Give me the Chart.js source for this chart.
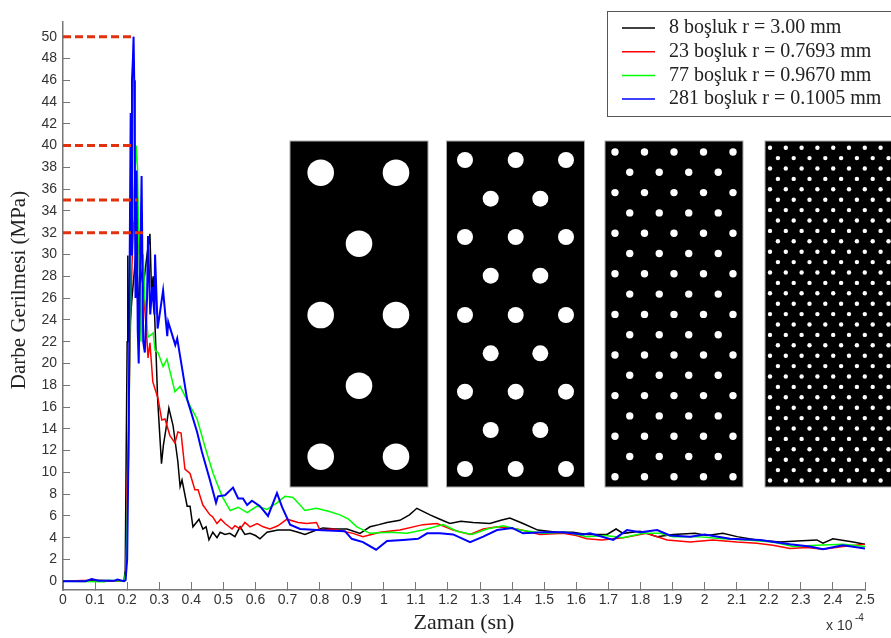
<!DOCTYPE html>
<html>
<head>
<meta charset="utf-8">
<title>Darbe Gerilmesi</title>
<script src="https://cdn.jsdelivr.net/npm/chart.js@4"></script>
<style>
    html, body { margin: 0; padding: 0; background: #fff; overflow: hidden; }
    canvas { display: block; }
</style>
</head>
<body>
<canvas id="stressChart" width="891" height="638"></canvas>
<script>
// Values. Time is in units of 10^-4 s, stress in MPa
const xTickLabels = ['0', '0.1', '0.2', '0.3', '0.4', '0.5', '0.6', '0.7', '0.8', '0.9', '1', '1.1', '1.2', '1.3', '1.4', '1.5', '1.6', '1.7', '1.8', '1.9', '2', '2.1', '2.2', '2.3', '2.4', '2.5'];
const yTickLabels = ['0', '2', '4', '6', '8', '10', '12', '14', '16', '18', '20', '22', '24', '26', '28', '30', '32', '34', '36', '38', '40', '42', '44', '46', '48', '50'];

const seriesNames = ['8 boşluk r = 3.00 mm', '23 boşluk r = 0.7693 mm', '77 boşluk r = 0.9670 mm', '281 boşluk r = 0.1005 mm'];
const seriesColors = ['#000000', '#ff0000', '#00ff00', '#0000ff'];

const timeBlack = [0, 0.085, 0.1, 0.15, 0.19, 0.194, 0.197, 0.2, 0.202, 0.205, 0.215, 0.23, 0.234, 0.24, 0.25, 0.262, 0.271, 0.276, 0.281, 0.29, 0.295, 0.307, 0.313, 0.321, 0.33, 0.343, 0.358, 0.365, 0.371, 0.387, 0.396, 0.405, 0.424, 0.436, 0.446, 0.455, 0.467, 0.48, 0.49, 0.505, 0.52, 0.536, 0.552, 0.567, 0.583, 0.6, 0.614, 0.636, 0.67, 0.708, 0.733, 0.754, 0.78, 0.81, 0.85, 0.885, 0.926, 0.957, 0.985, 1.01, 1.05, 1.08, 1.103, 1.144, 1.175, 1.206, 1.24, 1.278, 1.331, 1.365, 1.393, 1.434, 1.48, 1.54, 1.59, 1.633, 1.696, 1.724, 1.746, 1.799, 1.852, 1.902, 1.97, 2.007, 2.057, 2.101, 2.163, 2.235, 2.288, 2.35, 2.369, 2.4, 2.463, 2.5];
const stressBlack = [0, 0.05, 0.1, 0.05, 0.05, 1, 12, 22, 29.9, 22, 26, 31, 23.4, 29, 27, 30, 31.9, 26.5, 28, 21, 16.7, 10.8, 12.5, 14, 15.9, 14.3, 11, 8.7, 9.3, 6.9, 6.9, 5, 5.7, 4.8, 5, 3.8, 4.5, 4, 4.5, 4.3, 4.4, 4.1, 5, 4.3, 4.4, 4.2, 3.9, 4.5, 4.7, 4.7, 4.5, 4.3, 4.6, 4.9, 4.8, 4.8, 4.4, 5, 5.2, 5.4, 5.6, 6.1, 6.7, 6.1, 5.7, 5.3, 5.5, 5.4, 5.3, 5.6, 5.8, 5.3, 4.7, 4.5, 4.5, 4.3, 4.3, 4.8, 4.4, 4.6, 4.1, 4.3, 4.4, 4.2, 4.4, 4.1, 3.8, 3.6, 3.7, 3.8, 3.5, 3.9, 3.6, 3.4];

const timeRed = [0, 0.08, 0.09, 0.1, 0.19, 0.196, 0.2, 0.205, 0.21, 0.215, 0.22, 0.225, 0.23, 0.235, 0.24, 0.243, 0.25, 0.255, 0.262, 0.265, 0.271, 0.28, 0.296, 0.308, 0.318, 0.333, 0.349, 0.358, 0.368, 0.38, 0.396, 0.411, 0.421, 0.436, 0.458, 0.467, 0.48, 0.492, 0.505, 0.527, 0.536, 0.552, 0.567, 0.583, 0.605, 0.624, 0.645, 0.67, 0.698, 0.733, 0.76, 0.79, 0.801, 0.84, 0.873, 0.904, 0.935, 0.988, 1.05, 1.122, 1.166, 1.216, 1.269, 1.31, 1.353, 1.415, 1.487, 1.559, 1.6, 1.633, 1.68, 1.746, 1.82, 1.883, 1.955, 2.026, 2.101, 2.163, 2.213, 2.266, 2.32, 2.369, 2.431, 2.5];
const stressRed = [0, 0.1, 0.2, 0.05, 0, 0.5, 8, 15, 23, 29, 33, 35, 27, 32, 30, 33.3, 28, 25, 22, 20.5, 21.9, 18.3, 16.8, 14.8, 14.9, 13.4, 12.7, 13.7, 13.6, 10.3, 9.9, 8.4, 8.4, 7, 6.1, 5.9, 5.3, 5.7, 5.3, 4.8, 5.1, 4.8, 5.4, 5, 5.3, 5, 4.8, 5.1, 5.7, 5.4, 5.3, 5.4, 4.7, 4.8, 4.6, 4.4, 4.1, 4.5, 4.7, 5.2, 5.3, 4.7, 4.3, 4.8, 5, 4.8, 4.3, 4.4, 4.2, 3.9, 3.8, 4, 4.4, 3.8, 3.6, 3.8, 3.6, 3.5, 3.3, 3, 3.1, 2.95, 3.2, 3.4];

const timeGreen = [0, 0.13, 0.14, 0.19, 0.197, 0.2, 0.205, 0.21, 0.215, 0.218, 0.222, 0.228, 0.232, 0.237, 0.243, 0.25, 0.255, 0.265, 0.281, 0.287, 0.296, 0.312, 0.324, 0.349, 0.365, 0.396, 0.418, 0.443, 0.468, 0.496, 0.521, 0.546, 0.574, 0.605, 0.636, 0.667, 0.692, 0.717, 0.739, 0.754, 0.79, 0.83, 0.863, 0.89, 0.916, 0.957, 1.019, 1.072, 1.122, 1.185, 1.228, 1.275, 1.322, 1.372, 1.425, 1.496, 1.571, 1.633, 1.69, 1.746, 1.808, 1.861, 1.902, 1.976, 2.057, 2.132, 2.213, 2.276, 2.35, 2.431, 2.5];
const stressGreen = [0, -0.05, 0.1, 0, 1, 6, 12, 28, 38.3, 33, 36, 40, 38, 30, 22, 30, 26, 22.4, 22.8, 21.2, 21, 19.7, 20.4, 17.4, 17.9, 16.1, 14.9, 12.3, 9.9, 7.8, 6.5, 6.8, 6.3, 6.9, 6.6, 7.2, 7.8, 7.7, 7, 6.5, 6.7, 6.4, 6.1, 5.7, 5, 4.4, 4.5, 4.4, 4.7, 5.2, 4.6, 4.3, 4.8, 5.1, 4.7, 4.4, 4.5, 4.1, 4.2, 4, 4.4, 4.4, 4.1, 4.1, 3.9, 3.8, 3.6, 3.2, 3.3, 3.4, 3.2];

const timeBlue = [0, 0.07, 0.09, 0.11, 0.16, 0.17, 0.19, 0.195, 0.2, 0.205, 0.208, 0.211, 0.213, 0.215, 0.218, 0.22, 0.222, 0.224, 0.226, 0.229, 0.233, 0.236, 0.245, 0.25, 0.255, 0.262, 0.265, 0.272, 0.278, 0.285, 0.287, 0.295, 0.312, 0.325, 0.328, 0.35, 0.356, 0.387, 0.418, 0.433, 0.458, 0.477, 0.483, 0.505, 0.53, 0.546, 0.561, 0.574, 0.589, 0.614, 0.639, 0.667, 0.683, 0.708, 0.739, 0.792, 0.879, 0.9, 0.935, 0.976, 1.01, 1.06, 1.107, 1.135, 1.175, 1.216, 1.269, 1.31, 1.353, 1.4, 1.434, 1.496, 1.559, 1.621, 1.643, 1.715, 1.758, 1.8, 1.852, 1.892, 1.955, 2, 2.079, 2.173, 2.266, 2.328, 2.369, 2.431, 2.5];
const stressBlue = [0, 0, 0.2, 0.05, 0.05, 0.15, 0, 0.1, 2, 14, 30, 43, 30, 46, 48, 50, 46, 36, 26, 37.7, 23, 20, 37.2, 22, 21, 26, 31.7, 24.5, 27, 24.5, 30, 23.2, 26.7, 22.5, 23.8, 21.7, 22.3, 16.7, 13.7, 11.9, 9.3, 7.2, 7.8, 7.9, 8.6, 7.6, 7.6, 7, 7.4, 6.9, 6, 8.1, 6.8, 5.2, 4.8, 4.7, 4.6, 3.9, 3.6, 2.9, 3.7, 3.8, 3.9, 4.4, 4.4, 4.3, 3.6, 4.1, 4.7, 4.9, 4.4, 4.5, 4.5, 4.3, 4.4, 3.8, 4.7, 4.5, 4.7, 4.2, 4.1, 4.3, 3.9, 3.8, 3.4, 3.2, 2.95, 3.3, 3];

// Red dashed guides from the y axis to each peak
const peakLevels = [50, 40, 35, 32];
const peakEnds = [0.215, 0.212, 0.231, 0.262];

function toPoints(xs, ys) {
    return xs.map((x, i) => ({ x: x, y: ys[i] }));
}

const curveData = [
    toPoints(timeBlack, stressBlack),
    toPoints(timeRed, stressRed),
    toPoints(timeGreen, stressGreen),
    toPoints(timeBlue, stressBlue)
];

const datasets = curveData.map((points, i) => ({
    label: seriesNames[i],
    data: points,
    borderColor: seriesColors[i],
    borderWidth: i === 3 ? 2 : 1.5,
    pointRadius: 0,
    tension: 0,
    order: 4 - i
}));

peakLevels.forEach((level, i) => {
    datasets.push({
        label: 'peak ' + level,
        data: [{ x: 0, y: level }, { x: peakEnds[i], y: level }],
        borderColor: '#e2310f',
        borderWidth: 3,
        borderDash: [8, 4],
        pointRadius: 0,
        order: 0
    });
});

// The four plate pictures pasted over the plot
const plates = [
    { left: 290, radius: 13.3, mainCols: [320.7, 396], mainRows: [172.7, 315, 456.7], midCols: [359], midRows: [243.7, 385.7] },
    { left: 446.5, radius: 8, mainCols: [465, 515.7, 566], mainRows: [160, 237, 315, 391.7, 469], midCols: [490.7, 540.3], midRows: [198.7, 275.7, 353.3, 430] },
    { left: 605, radius: 3.7, count: [5, 4], startX: 615, stepX: 29.5, startY: 152, stepY: 20.3, rows: 17 },
    { left: 765, radius: 2.2, count: [9, 8], startX: 770, stepX: 15.8, startY: 147.7, stepY: 10.4, rows: 33 }
];

const platesPlugin = {
    id: 'plates',
    afterDatasetsDraw(chart) {
        const ctx = chart.ctx;
        ctx.save();
        plates.forEach(p => {
            ctx.fillStyle = '#000';
            ctx.fillRect(p.left, 141, 138, 346);
            ctx.strokeStyle = '#aaa';
            ctx.lineWidth = 1;
            ctx.strokeRect(p.left, 141, 138, 346);
            ctx.fillStyle = '#fff';
            const hole = (x, y) => {
                ctx.beginPath();
                ctx.arc(x, y, p.radius, 0, Math.PI * 2);
                ctx.fill();
            };
            if (p.mainCols) {
                p.mainRows.forEach(y => p.mainCols.forEach(x => hole(x, y)));
                p.midRows.forEach(y => p.midCols.forEach(x => hole(x, y)));
            } else {
                for (let r = 0; r < p.rows; r++) {
                    const odd = r % 2;
                    for (let c = 0; c < p.count[odd]; c++) {
                        hole(p.startX + p.stepX * (c + odd / 2), p.startY + p.stepY * r);
                    }
                }
            }
        });
        ctx.restore();
    }
};

const labelsPlugin = {
    id: 'labels',
    afterDraw(chart) {
        const ctx = chart.ctx;
        ctx.save();

        // legend box runs off the right edge like in the original
        ctx.fillStyle = '#fff';
        ctx.fillRect(607.5, 11.5, 290, 105);
        ctx.strokeStyle = '#555';
        ctx.lineWidth = 1;
        ctx.strokeRect(607.5, 11.5, 290, 105);
        ctx.font = '20px "Liberation Serif"';
        ctx.textBaseline = 'middle';
        ctx.textAlign = 'left';
        seriesNames.forEach((name, i) => {
            const y = 28 + i * 23.7;
            ctx.strokeStyle = seriesColors[i];
            ctx.lineWidth = 1.5;
            ctx.beginPath();
            ctx.moveTo(622, y);
            ctx.lineTo(655, y);
            ctx.stroke();
            ctx.fillStyle = '#222';
            ctx.fillText(name, 669, y);
        });

        // exponent label under the right end of the x axis
        ctx.fillStyle = '#333';
        ctx.font = '14px "Liberation Sans"';
        ctx.fillText('x 10', 826, 626);
        ctx.font = '10px "Liberation Sans"';
        ctx.fillText('-4', 855, 618);

        // y title sits a little above the axis centre
        ctx.fillStyle = '#222';
        ctx.font = '21px "Liberation Serif"';
        ctx.textAlign = 'center';
        ctx.translate(19, 290);
        ctx.rotate(-Math.PI / 2);
        ctx.fillText('Darbe Gerilmesi (MPa)', 0, 0);
        ctx.restore();
    }
};

new Chart(document.getElementById('stressChart'), {
    type: 'line',
    data: { datasets: datasets },
    plugins: [platesPlugin, labelsPlugin],
    options: {
        responsive: false,
        animation: false,
        layout: { padding: { top: 3, right: 26, left: 0, bottom: 0 } },
        plugins: {
            legend: { display: false },
            tooltip: { enabled: false }
        },
        scales: {
            x: {
                type: 'linear',
                min: 0,
                max: 2.5,
                afterBuildTicks: axis => {
                    axis.ticks = xTickLabels.map(label => ({ value: Number(label) }));
                },
                afterFit: axis => { axis.height = 48; },
                border: { color: '#777', width: 1.5 },
                grid: { drawOnChartArea: false, color: '#777', tickLength: -8, lineWidth: 1 },
                ticks: {
                    autoSkip: false,
                    maxRotation: 0,
                    padding: 10,
                    color: '#333',
                    font: { family: 'Liberation Sans', size: 14 },
                    callback: (value, i) => xTickLabels[i]
                },
                title: {
                    display: true,
                    text: 'Zaman (sn)',
                    color: '#222',
                    font: { family: 'Liberation Serif', size: 22 },
                    padding: { top: 0, bottom: 2 }
                }
            },
            y: {
                type: 'linear',
                min: -0.8,
                max: 51.4,
                afterBuildTicks: axis => {
                    axis.ticks = yTickLabels.map(label => ({ value: Number(label) }));
                },
                afterFit: axis => { axis.width = 63; },
                border: { color: '#777', width: 1.5 },
                grid: { drawOnChartArea: false, color: '#777', tickLength: -7, lineWidth: 1 },
                ticks: {
                    autoSkip: false,
                    padding: 13,
                    color: '#333',
                    font: { family: 'Liberation Sans', size: 14 },
                    callback: (value, i) => yTickLabels[i]
                }
            }
        }
    }
});
</script>
</body>
</html>
